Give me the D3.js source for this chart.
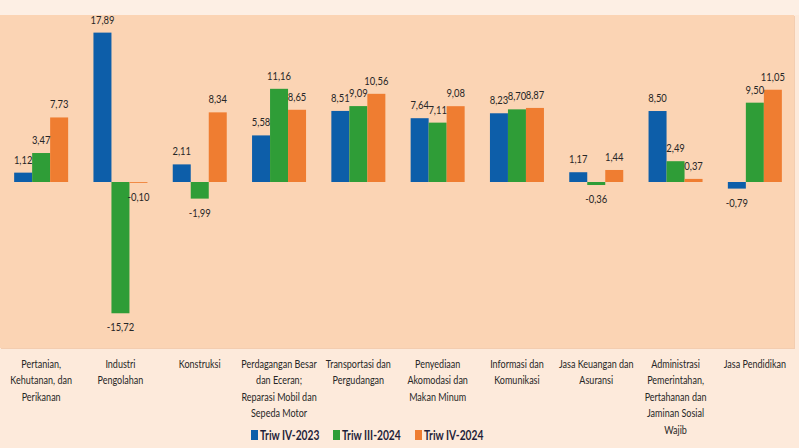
<!DOCTYPE html>
<html>
<head>
<meta charset="utf-8">
<script src="https://cdn.jsdelivr.net/npm/d3@7"></script>
<style>
  html, body { margin: 0; padding: 0; background: #fdeadb; }
  svg { display: block; }
  text { font-family: Lato, "Noto Sans", sans-serif; }
</style>
</head>
<body>
<svg id="chart" width="799" height="448"></svg>
<script>
const categories = [
  ["Pertanian,", "Kehutanan, dan", "Perikanan"],
  ["Industri", "Pengolahan"],
  ["Konstruksi"],
  ["Perdagangan Besar", "dan Eceran;", "Reparasi Mobil dan", "Sepeda Motor"],
  ["Transportasi dan", "Pergudangan"],
  ["Penyediaan", "Akomodasi dan", "Makan Minum"],
  ["Informasi dan", "Komunikasi"],
  ["Jasa Keuangan dan", "Asuransi"],
  ["Administrasi", "Pemerintahan,", "Pertahanan dan", "Jaminan Sosial", "Wajib"],
  ["Jasa Pendidikan"]
];
const seriesNames = ["Triw IV-2023", "Triw III-2024", "Triw IV-2024"];
const triwIV2023  = [1.12, 17.89, 2.11, 5.58, 8.51, 7.64, 8.23, 1.17, 8.50, -0.79];
const triwIII2024 = [3.47, -15.72, -1.99, 11.16, 9.09, 7.11, 8.70, -0.36, 2.49, 9.50];
const triwIV2024  = [7.73, -0.10, 8.34, 8.65, 10.56, 9.08, 8.87, 1.44, 0.37, 11.05];
const seriesValues = [triwIV2023, triwIII2024, triwIV2024];
const colors = ["#0d5ea9", "#2f9d37", "#ef7d31"];
const yDomain = [-20, 20];

const svg = d3.select("#chart");
const W = 799, H = 448;
const plot = {x0: 0, x1: 794, y0: 15, y1: 348};
const sx = 0.82; // horizontal condensing to mimic the narrow original face

// backgrounds
svg.append("rect").attr("x", 0).attr("y", 0).attr("width", W).attr("height", plot.y0)
  .attr("fill", "#fdefe4");
svg.append("rect").attr("x", plot.x0 + 1).attr("y", plot.y0 + 1)
  .attr("width", plot.x1 - plot.x0).attr("height", plot.y1 - plot.y0)
  .attr("fill", "#f3cdb0");
svg.append("rect").attr("x", plot.x0).attr("y", plot.y0)
  .attr("width", plot.x1 - plot.x0).attr("height", plot.y1 - plot.y0)
  .attr("fill", "#fbd4b4");

const idx = d3.range(categories.length);
const x = d3.scaleBand().domain(idx).range([1.5, 794.5]).padding(0);
const xs = d3.scaleBand().domain(d3.range(seriesNames.length)).range([-27, 27]).padding(0);
const y = d3.scaleLinear().domain(yDomain).range([349, 15]);

const g = svg.append("g");
seriesValues.forEach((vals, s) => {
  g.selectAll(null).data(vals).enter().append("rect")
    .attr("x", (d, i) => x(i) + x.bandwidth() / 2 + xs(s))
    .attr("width", xs.bandwidth())
    .attr("y", d => y(Math.max(0, d)))
    .attr("height", d => Math.abs(y(d) - y(0)))
    .attr("fill", colors[s]);
});

const fmt = v => v.toFixed(2).replace(".", ",");
seriesValues.forEach((vals, s) => {
  g.selectAll(null).data(vals).enter().append("text")
    .attr("transform", (d, i) => {
      const cx = x(i) + x.bandwidth() / 2 + xs(s) + xs.bandwidth() / 2;
      const cy = d >= 0 ? y(d) - 9 : y(d) + 18;
      return `translate(${cx},${cy}) scale(${sx},1)`;
    })
    .attr("text-anchor", "middle")
    .attr("font-size", "11.5px")
    .attr("fill", "#262626")
    .text(d => fmt(d));
});

// category labels
const lab = svg.append("g");
categories.forEach((lines, i) => {
  const t = lab.append("text")
    .attr("transform", `translate(${x(i) + x.bandwidth() / 2},368) scale(${sx},1)`)
    .attr("text-anchor", "middle")
    .attr("font-size", "11px")
    .attr("fill", "#262626");
  lines.forEach((ln, k) => {
    t.append("tspan").attr("x", 0).attr("y", k * 16.5).text(ln);
  });
});

// legend
const legX = [251, 333, 415];
const leg = svg.append("g");
seriesNames.forEach((n, s) => {
  leg.append("rect").attr("x", legX[s]).attr("y", 430).attr("width", 7).attr("height", 10)
    .attr("fill", colors[s]);
  leg.append("text").attr("transform", `translate(${legX[s] + 9},439.5) scale(${sx},1)`)
    .attr("font-size", "12.5px").attr("font-weight", "bold").attr("fill", "#1f1f3a")
    .text(n);
});
</script>
</body>
</html>
